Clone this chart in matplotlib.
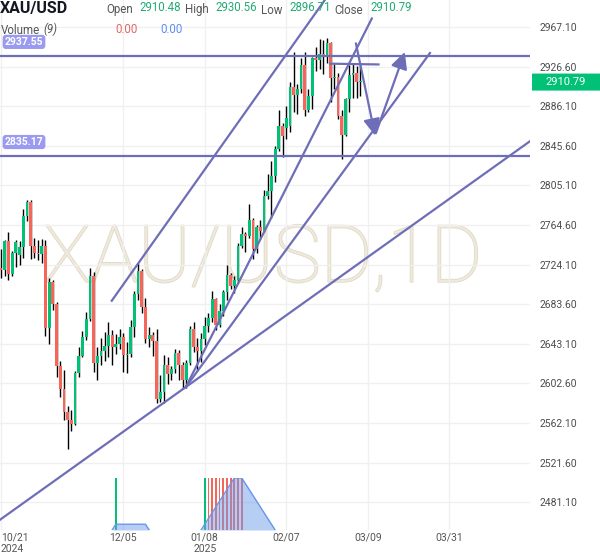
import numpy as np
import pandas as pd
import matplotlib
matplotlib.use("Agg")
import matplotlib.pyplot as plt
import matplotlib.patheffects as pe
from matplotlib.patches import FancyBboxPatch
from matplotlib.transforms import blended_transform_factory

plt.rcParams["font.family"] = ["Roboto", "DejaVu Sans"]

# daily candles, 2024-10-21 .. 2025-03-07 (one per trading day)
opens = [2721, 2719, 2748, 2715, 2736, 2734, 2742, 2774, 2788, 2743,
         2736, 2735, 2743, 2659, 2706, 2684, 2620, 2597, 2573, 2565,
         2561, 2613, 2631, 2650, 2669, 2712, 2624, 2631, 2636, 2641,
         2652, 2640, 2643, 2650, 2632, 2633, 2660, 2694, 2718, 2681,
         2648, 2652, 2646, 2587, 2594, 2622, 2612, 2617, 2634, 2621,
         2606, 2624, 2658, 2640, 2636, 2648, 2661, 2670, 2689, 2662,
         2677, 2696, 2714, 2702, 2708, 2743, 2755, 2753, 2770, 2740,
         2763, 2759, 2794, 2799, 2815, 2842, 2866, 2864, 2866, 2906,
         2898, 2904, 2928, 2882, 2897, 2935, 2933, 2939, 2936, 2951,
         2915, 2916, 2876, 2857, 2893, 2918, 2920, 2910.48]
highs = [2740, 2749, 2758, 2738, 2749, 2748, 2781, 2790, 2790, 2751,
         2749, 2750, 2749, 2710, 2708, 2686, 2626, 2616, 2580, 2575,
         2615, 2640, 2656, 2676, 2721, 2717, 2640, 2649, 2655, 2665,
         2657, 2653, 2658, 2654, 2645, 2668, 2697, 2726, 2720, 2690,
         2660, 2655, 2658, 2611, 2632, 2630, 2620, 2638, 2637, 2625,
         2627, 2661, 2665, 2649, 2654, 2671, 2675, 2697, 2690, 2684,
         2698, 2724, 2716, 2713, 2746, 2763, 2757, 2786, 2772, 2765,
         2770, 2800, 2817, 2830, 2845, 2882, 2869, 2886, 2911, 2942,
         2909, 2935, 2942, 2904, 2936, 2947, 2955, 2954, 2956, 2952,
         2929, 2920, 2882, 2894, 2928, 2930, 2927, 2930.56]
lows = [2710, 2713, 2708, 2713, 2722, 2724, 2731, 2769, 2730, 2731,
        2729, 2726, 2651, 2643, 2678, 2609, 2589, 2565, 2536, 2554,
        2560, 2609, 2630, 2647, 2667, 2614, 2606, 2621, 2626, 2630,
        2621, 2633, 2638, 2614, 2613, 2630, 2650, 2688, 2675, 2644,
        2640, 2631, 2583, 2584, 2583, 2602, 2606, 2613, 2606, 2597,
        2598, 2622, 2635, 2615, 2625, 2642, 2655, 2665, 2657, 2660,
        2672, 2688, 2699, 2695, 2705, 2741, 2737, 2751, 2730, 2736,
        2750, 2757, 2791, 2772, 2809, 2840, 2834, 2853, 2860, 2880,
        2878, 2900, 2876, 2880, 2883, 2922, 2924, 2919, 2930, 2890,
        2904, 2873, 2832, 2856, 2880, 2895, 2894, 2896.71]
closes = [2719, 2748, 2715, 2736, 2747, 2742, 2774, 2788, 2743, 2736,
          2735, 2743, 2659, 2706, 2684, 2620, 2597, 2573, 2565, 2561,
          2613, 2631, 2650, 2669, 2712, 2624, 2631, 2636, 2641, 2652,
          2640, 2643, 2650, 2632, 2633, 2660, 2694, 2718, 2681, 2648,
          2652, 2646, 2587, 2594, 2622, 2612, 2617, 2634, 2621, 2606,
          2624, 2658, 2640, 2636, 2648, 2661, 2670, 2689, 2662, 2677,
          2696, 2714, 2702, 2708, 2743, 2755, 2753, 2770, 2740, 2763,
          2759, 2794, 2799, 2815, 2842, 2866, 2856, 2874, 2906, 2898,
          2904, 2928, 2882, 2897, 2935, 2933, 2939, 2936, 2951, 2915,
          2916, 2876, 2857, 2893, 2918, 2920, 2911, 2910.79]

# volume pane (bar index, relative volume, up/down)
vol_index = [31, 55, 56, 57, 58, 59, 60, 61, 62, 63, 64, 65]
vol_value = [1, 1, 1, 1, 1, 1, 1, 1, 1, 1, 1, 1]
vol_up = [True, True, False, False, False, False, False, False, False, False, False, False]
vol_ma_len = 9

# axis ticks
date_pos = [0, 33, 55, 77, 99, 121]
date_labels = ["10/21\n2024", "12/05", "01/08\n2025", "02/07", "03/09", "03/31"]
price_ticks = [2481.10, 2521.60, 2562.10, 2602.60, 2643.10, 2683.60, 2724.10,
               2764.60, 2805.10, 2845.60, 2886.10, 2926.60, 2967.10]

# drawings: (bar index, price) anchors
levels = [2937.55, 2835.17]
pivot = (49.9, 2599.0)
fan_ends = [(100.1, 2975.8), (115.8, 2940.5)]
long_line = [(49.9, 2599.0), (142.5, 2849.5)]
channel_line = [(29.9, 2687.2), (100.0, 3062.0)]
flat_line = [(88.8, 2929.6), (101.9, 2928.8)]
arrow_down = [(95.8, 2950.4), (101.0, 2856.0)]
arrow_up = [(101.2, 2858.6), (109.0, 2941.5)]

GREEN = "#00c176"
RED = "#f5655a"
TOOL = "#6e6eb8"

W, H = 600, 558
fig = plt.figure(figsize=(W / 100, H / 100), dpi=100)
ax = fig.add_axes([0, 28 / H, 530 / W, 530 / H])
ax.set_xlim(-0.27, 142.8)
ax.set_ylim(2452.8, 2994.7)
for s in ax.spines.values():
    s.set_visible(False)
ax.grid(color="#f0f0f0", lw=1)
ax.set_axisbelow(True)

ax.yaxis.tick_right()
ax.set_yticks(price_ticks, [f"{p:.2f}" for p in price_ticks])
ax.tick_params(axis="y", length=0, pad=7, labelsize=7.5, labelcolor="#4d4d4d")
ax.set_xticks(date_pos, date_labels)
ax.tick_params(axis="x", length=0, pad=2, labelsize=7.5, labelcolor="#555555")
first = ax.get_xticklabels()[0]
first.set_ha("left")
first.set_multialignment("left")

# watermark
ax.text(70.7, 2728.8, "XAU/USD,1D", fontsize=57, fontweight="light",
        color="#efeadd", ha="center", va="center", zorder=0.5,
        path_effects=[pe.withStroke(linewidth=1.2, foreground="#e0d9c5")])

# candles
x = np.arange(len(closes))
o = np.array(opens)
c = np.array(closes)
ax.vlines(x, lows, highs, color="black", lw=1, zorder=2)
body_lo = np.minimum(o, c)
body_h = np.maximum(np.abs(c - o), 0.9)
colors = [GREEN if cc >= oo else RED for oo, cc in zip(opens, closes)]
ax.bar(x, body_h, bottom=body_lo, width=0.75, color=colors, zorder=3)

# drawing tools
for lvl in levels:
    ax.axhline(lvl, color=TOOL, lw=1.6, zorder=4)
    ax.annotate(f"{lvl:.2f}", xy=(0, lvl), xycoords=("axes fraction", "data"),
                xytext=(24, 14), textcoords="offset pixels", ha="center", va="center",
                fontsize=7.5, fontweight="bold", color="white", zorder=6,
                bbox=dict(boxstyle="round,pad=0.2,rounding_size=0.3", fc="#9a9af0", ec="none"))
for end in fan_ends:
    ax.plot([pivot[0], end[0]], [pivot[1], end[1]], color=TOOL, lw=1.6, zorder=4)
ax.axline(long_line[0], long_line[1], color=TOOL, lw=1.6, zorder=4)
ax.plot(*zip(*channel_line), color=TOOL, lw=1.6, zorder=4)
ax.plot(*zip(*flat_line), color=TOOL, lw=1.6, zorder=4)
for a in (arrow_down, arrow_up):
    ax.annotate("", xy=a[1], xytext=a[0],
                arrowprops=dict(arrowstyle="-|>,head_length=1.0,head_width=0.5",
                                mutation_scale=10, color=TOOL, lw=1.6,
                                shrinkA=0, shrinkB=0), zorder=4)

# volume pane
axv = fig.add_axes([0, 28 / H, 530 / W, 52 / H])
axv.set_xlim(ax.get_xlim())
axv.set_ylim(0, 1)
axv.axis("off")
axv.patch.set_alpha(0)
axv.bar(vol_index, vol_value, width=0.5,
        color=[GREEN if u else RED for u in vol_up])
vol = pd.Series(0.0, index=x)
vol[vol_index] = vol_value
ma = vol.rolling(vol_ma_len, min_periods=1).mean()
axv.fill_between(x, ma, color="#6f9cea", alpha=0.5, lw=0)
edge = ma.where((ma > 0) | (ma.shift(1) > 0) | (ma.shift(-1) > 0))
axv.plot(x, edge, color="#6b95e8", lw=1)

# last price tag
tr = blended_transform_factory(fig.transFigure, ax.transData)
fig.add_artist(FancyBboxPatch((532 / W, closes[-1] - 8.7), 68 / W, 17.4,
                              boxstyle="round,pad=0,rounding_size=0.004",
                              transform=tr, fc=GREEN, ec="none"))
fig.text(566 / W, closes[-1], f"{closes[-1]:.2f}", transform=tr, ha="center",
         va="center", fontsize=8, color="white")

# header
def fy(y):
    return 1 - y / H

fig.text(0, fy(9), "XAU/USD", fontsize=11.5, fontweight="bold", color="#131722", va="center")
fig.text(1 / W, fy(33.5), "Volume", fontsize=8.3, color="#555555", va="baseline")
fig.text(43 / W, fy(33.5), "(9)", fontsize=8.3, style="italic", color="#555555", va="baseline")
fig.text(115 / W, fy(33), "0.00", fontsize=8.3, color="#e06666", va="baseline")
fig.text(160 / W, fy(33), "0.00", fontsize=8.3, color="#5b8ff0", va="baseline")
head = [("Open", opens[-1], 106, 139), ("High", highs[-1], 185, 215.7),
        ("Low", lows[-1], 261, 289), ("Close", closes[-1], 334, 370.7)]
for name, val, lx, vx in head:
    fig.text(lx / W, fy(13.5), name, fontsize=8.3, color="#555555", va="baseline")
    fig.text(vx / W, fy(10.8), f"{val:.2f}", fontsize=8.3, color="#22ab72", va="baseline")

fig.savefig("out.png", dpi=100)
